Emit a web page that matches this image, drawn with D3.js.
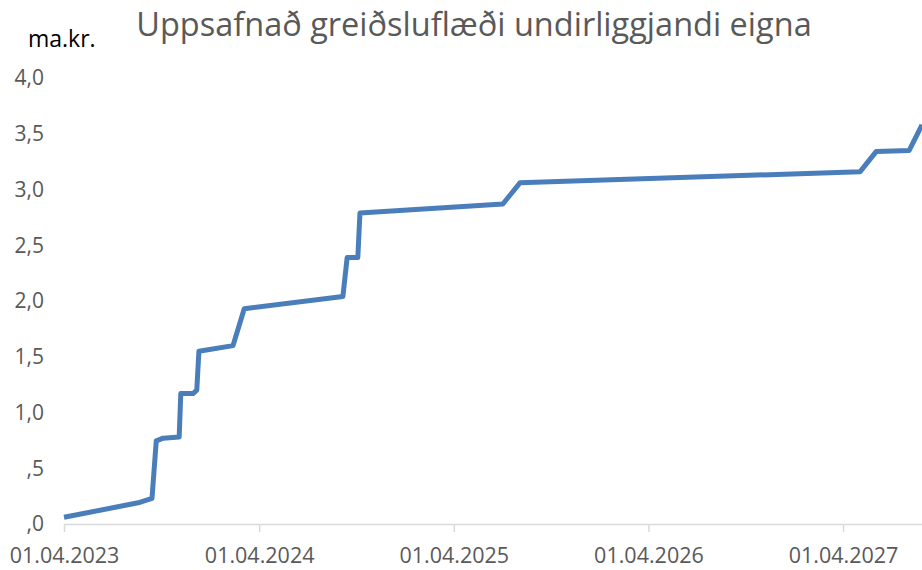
<!DOCTYPE html>
<html>
<head>
<meta charset="utf-8">
<script src="https://cdn.jsdelivr.net/npm/d3@7"></script>
<style>
  body { margin: 0; background: #fff; }
  svg { display: block; font-family: "Open Sans", sans-serif; }
</style>
</head>
<body>
<svg id="chart"></svg>
<script>
const width = 922,
  height = 570;

// Cumulative cash flow, bn ISK
const dates = [
  "01.04.2023", "18.08.2023", "13.09.2023", "21.09.2023", "04.10.2023",
  "03.11.2023", "06.11.2023", "29.11.2023", "06.12.2023", "10.12.2023",
  "12.02.2024", "04.03.2024", "05.09.2024", "13.09.2024", "03.10.2024",
  "07.10.2024", "02.07.2025", "03.08.2025", "03.05.2027", "02.06.2027",
  "03.08.2027", "27.08.2027"
];
const values = [
  0.06, 0.19, 0.23, 0.745, 0.77,
  0.78, 1.17, 1.17, 1.2, 1.55,
  1.6, 1.93, 2.04, 2.39, 2.39,
  2.79, 2.87, 3.06, 3.16, 3.34,
  3.35, 3.58
];
const xTicks = ["01.04.2023", "01.04.2024", "01.04.2025", "01.04.2026", "01.04.2027"];
const yTicks = [0, 0.5, 1, 1.5, 2, 2.5, 3, 3.5, 4];
const yTickLabels = [",0", ",5", "1,0", "1,5", "2,0", "2,5", "3,0", "3,5", "4,0"];

const parse = d3.timeParse("%d.%m.%Y");
const data = dates.map((d, i) => ({ date: parse(d), value: values[i] }));

const svg = d3.select("#chart").attr("width", width).attr("height", height);

const x = d3
  .scaleTime()
  .domain([parse(xTicks[0]), parse(dates[dates.length - 1])])
  .range([64, 922]);
const y = d3.scaleLinear().domain([0, 4]).range([524, 78]);

// Title
svg
  .append("text")
  .attr("x", 474)
  .attr("y", 36)
  .attr("text-anchor", "middle")
  .attr("fill", "#595959")
  .style("font-size", "32.5px")
  .text("Uppsafnað greiðsluflæði undirliggjandi eigna");

// Unit label
svg
  .append("text")
  .attr("x", 28)
  .attr("y", 47)
  .attr("fill", "#000")
  .style("font-size", "23px")
  .text("ma.kr.");

// Y axis labels (no axis line)
svg
  .selectAll(".ylab")
  .data(yTicks)
  .join("text")
  .attr("class", "ylab")
  .attr("x", 44)
  .attr("y", (d) => y(d))
  .attr("dy", "0.35em")
  .attr("text-anchor", "end")
  .attr("fill", "#595959")
  .style("font-size", "21px")
  .text((d, i) => yTickLabels[i]);

// X axis
const xAxis = d3
  .axisBottom(x)
  .tickValues(xTicks.map(parse))
  .tickFormat(d3.timeFormat("%d.%m.%Y"))
  .tickSize(8)
  .tickSizeOuter(0);

const gx = svg
  .append("g")
  .attr("transform", `translate(0,${y(0)})`)
  .call(xAxis);
gx.select(".domain").attr("stroke", "#d9d9d9").attr("stroke-width", 1.5);
gx.selectAll(".tick line").attr("stroke", "#d9d9d9").attr("stroke-width", 1.5);
gx.selectAll(".tick text")
  .attr("fill", "#595959")
  .attr("y", 24)
  .style("font-size", "21.5px")
  .style("font-family", "'Open Sans', sans-serif");

// Line
const line = d3
  .line()
  .x((d) => x(d.date))
  .y((d) => y(d.value));

svg
  .append("path")
  .datum(data)
  .attr("fill", "none")
  .attr("stroke", "#4a7ebb")
  .attr("stroke-width", 5)
  .attr("stroke-linejoin", "round")
  .attr("d", line);
</script>
</body>
</html>
